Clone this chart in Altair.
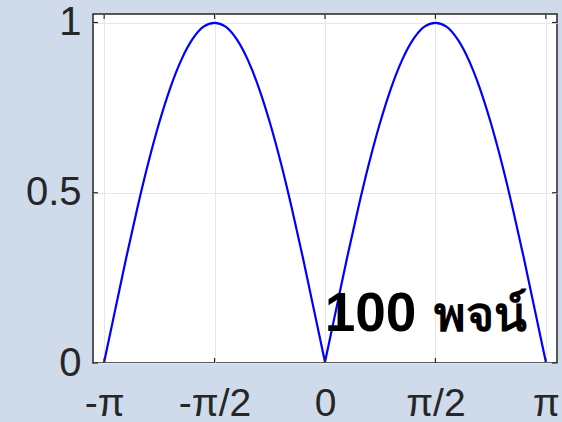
import altair as alt
import pandas as pd

# Curve (x in radians, y value), one list per hump
x_vals = [-3.1416, -2.9845, -2.8274, -2.6704, -2.5133, -2.3562, -2.1991, -2.0420, -1.8850, -1.7279,
          -1.5708, -1.4137, -1.2566, -1.0996, -0.9425, -0.7854, -0.6283, -0.4712, -0.3142, -0.1571,
          0.0,
          0.0, 0.1571, 0.3142, 0.4712, 0.6283, 0.7854, 0.9425, 1.0996, 1.2566, 1.4137,
          1.5708, 1.7279, 1.8850, 2.0420, 2.1991, 2.3562, 2.5133, 2.6704, 2.8274, 2.9845, 3.1416]
y_vals = [0.003, 0.156, 0.309, 0.454, 0.588, 0.707, 0.809, 0.891, 0.951, 0.988,
          0.999, 0.988, 0.951, 0.891, 0.809, 0.707, 0.588, 0.454, 0.309, 0.156,
          0.003,
          0.003, 0.156, 0.309, 0.454, 0.588, 0.707, 0.809, 0.891, 0.951, 0.988,
          0.999, 0.988, 0.951, 0.891, 0.809, 0.707, 0.588, 0.454, 0.309, 0.156, 0.003]
hump = ["a"] * 21 + ["b"] * 21

x_ticks = [-3.14159, -1.5708, 0.0, 1.5708, 3.14159]
x_tick_labels = ["-π", "-π/2", "0", "π/2", "π"]
y_ticks = [0.0, 0.5, 1.0]
y_tick_labels = ["0", "0.5", "1"]

annot_text = ["100", "พจน์"]
annot_x = [-0.005, 1.55]
annot_y = [0.094, 0.094]
annot_size = [55, 48]

W, H = 464, 349
FONT = "Liberation Sans"
INK = "#262626"

x_scale = alt.Scale(domain=[-3.3, 3.3], nice=False, zero=False)
y_scale = alt.Scale(domain=[0, 1.025], nice=False, zero=False)

x_expr = " : ".join(
    [f"abs(datum.value - ({v})) < 0.01 ? '{l}'" for v, l in zip(x_ticks, x_tick_labels)]
) + " : ''"
y_expr = " : ".join(
    [f"abs(datum.value - ({v})) < 0.01 ? '{l}'" for v, l in zip(y_ticks, y_tick_labels)]
) + " : ''"

curve_df = pd.DataFrame({"x": x_vals, "y": y_vals, "hump": hump})
xt_df = pd.DataFrame({"t": x_ticks})
yt_df = pd.DataFrame({"t": y_ticks})

x_axis = alt.Axis(values=x_ticks, labelExpr=x_expr, title=None, domain=False, ticks=False,
                  grid=True, gridColor="#e6e6e6", gridWidth=1, labelFont=FONT, labelFontSize=39,
                  labelColor=INK, labelPadding=21, labelFlush=False, labelOverlap=False)
y_axis = alt.Axis(values=y_ticks, labelExpr=y_expr, title=None, domain=False, ticks=False,
                  grid=True, gridColor="#e6e6e6", gridWidth=1, labelFont=FONT, labelFontSize=40,
                  labelColor=INK, labelPadding=12, labelFlush=False, labelOverlap=False)

curve = alt.Chart(curve_df).mark_line(color="#0000ff", strokeWidth=2.2, clip=True,
                                      interpolate="monotone").encode(
    x=alt.X("x:Q", scale=x_scale, axis=x_axis),
    y=alt.Y("y:Q", scale=y_scale, axis=y_axis),
    detail="hump:N",
)

tick_style = dict(color=INK, strokeWidth=1.2)
xt_bottom = alt.Chart(xt_df).mark_rule(**tick_style).encode(
    x=alt.X("t:Q", scale=x_scale), y=alt.value(H), y2=alt.value(H - 5))
xt_top = alt.Chart(xt_df).mark_rule(**tick_style).encode(
    x=alt.X("t:Q", scale=x_scale), y=alt.value(0), y2=alt.value(5))
yt_left = alt.Chart(yt_df).mark_rule(**tick_style).encode(
    y=alt.Y("t:Q", scale=y_scale), x=alt.value(0), x2=alt.value(5))
yt_right = alt.Chart(yt_df).mark_rule(**tick_style).encode(
    y=alt.Y("t:Q", scale=y_scale), x=alt.value(W), x2=alt.value(W - 5))

texts = []
for t, tx, ty, ts in zip(annot_text, annot_x, annot_y, annot_size):
    df = pd.DataFrame({"x": [tx], "y": [ty], "label": [t]})
    texts.append(alt.Chart(df).mark_text(align="left", baseline="alphabetic", font=FONT,
                                         fontSize=ts, fontWeight="bold", color="#000000").encode(
        x=alt.X("x:Q", scale=x_scale), y=alt.Y("y:Q", scale=y_scale), text="label:N"))

chart = alt.layer(curve, xt_bottom, xt_top, yt_left, yt_right, *texts).properties(
    width=W, height=H,
    padding={"left": 93, "top": 14, "right": 5, "bottom": 59},
    autosize=alt.AutoSizeParams(type="none"),
    background="#cfdaea",
).configure_view(
    fill="#ffffff", stroke=INK, strokeWidth=1.5
)

chart.save("out.html", embed_options={"renderer": "svg", "actions": False})
